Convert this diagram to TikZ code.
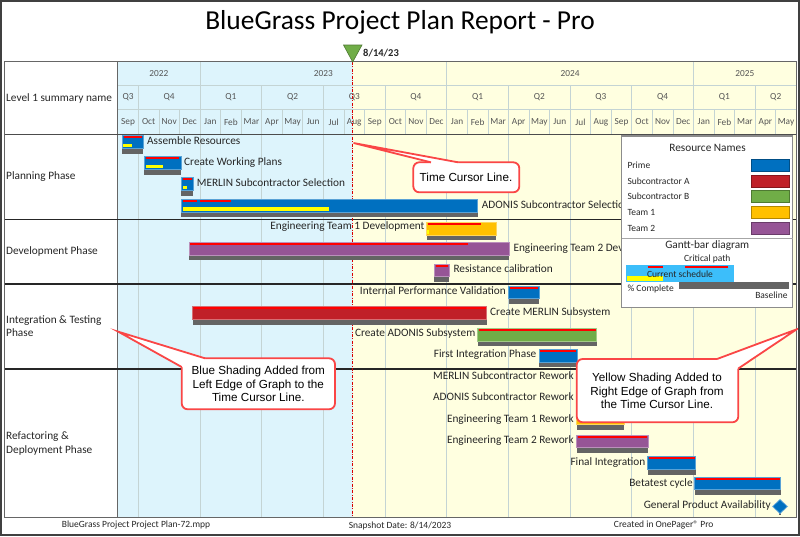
\documentclass[tikz,border=0pt]{standalone}
\usepackage{fontspec}
\setmainfont{Carlito}
\newfontfamily\arialfam{Liberation Sans}
\definecolor{prime}{RGB}{0,112,192}
\definecolor{subA}{RGB}{192,32,40}
\definecolor{subB}{RGB}{112,173,71}
\definecolor{teamA}{RGB}{255,192,0}
\definecolor{teamB}{RGB}{150,85,150}
\definecolor{critred}{RGB}{255,0,0}
\definecolor{pctyel}{RGB}{255,255,0}
\definecolor{basegray}{RGB}{100,100,100}
\definecolor{legblue}{RGB}{60,190,250}
\definecolor{shblue}{RGB}{221,244,252}
\definecolor{shyel}{RGB}{255,255,224}
\definecolor{callred}{RGB}{250,70,70}
\definecolor{gridc}{RGB}{196,212,212}
\definecolor{hdrtxt}{RGB}{85,85,85}
\definecolor{txtc}{RGB}{38,38,38}
\definecolor{curgreen}{RGB}{112,173,71}
\newcommand\mytaskfont{\fontsize{11.3}{13.5}\selectfont}
\newcommand\myhdrfont{\fontsize{9.3}{11}\selectfont}
\newcommand\mylegfont{\fontsize{9.5}{11}\selectfont}
\newcommand\mycallfont{\arialfam\fontsize{11.7}{13.4}\selectfont}
\newcommand\gbar[4]{%
  \fill[basegray] (#1,#3+12) rectangle (#2,#3+18);
  \filldraw[fill=#4, draw=#4!65!white, line width=0.6] (#1,#3) rectangle (#2,#3+12.5);}
\newcommand\crit[3]{\draw[critred, line width=1.8] (#1,#3+1.6) -- (#2,#3+1.6);}
\newcommand\pct[3]{\fill[pctyel] (#1,#3+8) rectangle (#2,#3+11.5);}
\begin{document}
\begin{tikzpicture}[x=1pt,y=-1pt,
  tlabel/.style={font=\mytaskfont, text=txtc, inner sep=0, text height=7.6pt, text depth=2.3pt},
  tw/.style={tlabel, anchor=west},
  te/.style={tlabel, anchor=east},
  hdr/.style={font=\myhdrfont, text=hdrtxt, inner sep=0},
  phase/.style={font=\mytaskfont, text=txtc, inner sep=0, anchor=west, align=left},
  gridl/.style={draw=gridc, line width=0.7},
  sepl/.style={draw=black!85, line width=1.4},
  legtxt/.style={font=\mylegfont, text=txtc, inner sep=0},
  callbox/.style={draw=callred, line width=1.8, fill=white, rounded corners=6},
  calltxt/.style={font=\mycallfont, text=black, inner sep=0, align=center},
  foot/.style={font=\fontsize{9.5}{11}\selectfont, text=txtc, inner sep=0}]
\useasboundingbox (0,0) rectangle (800,536);
\fill[white] (0,0) rectangle (800,536);
% title
\node[font=\fontsize{27.4}{30}\selectfont, inner sep=0] (title) at (400,22) {BlueGrass Project Plan Report - Pro};
% shading
\fill[shblue] (117.8,61.7) rectangle (352.7,517);
\fill[shyel] (352.7,61.7) rectangle (796,517);
% header grid
\draw[gridl] (117.8,85) -- (796,85);
\draw[gridl] (117.8,109) -- (796,109);
\foreach \m in {1,...,32} {\pgfmathsetmacro\xx{117.8+20.56*\m}\draw[gridl] (\xx,109) -- (\xx,134.3);}
\foreach \m in {1,4,...,31} {\pgfmathsetmacro\xx{117.8+20.56*\m}\draw[gridl] (\xx,85) -- (\xx,109);\draw[gridl] (\xx,134.3) -- (\xx,517);}
\foreach \m in {4,16,28} {\pgfmathsetmacro\xx{117.8+20.56*\m}\draw[gridl] (\xx,61.7) -- (\xx,85);}
% header labels
\foreach \mn [count=\i from 0] in {Sep,Oct,Nov,Dec,Jan,Feb,Mar,Apr,May,Jun,Jul,Aug,Sep,Oct,Nov,Dec,Jan,Feb,Mar,Apr,May,Jun,Jul,Aug,Sep,Oct,Nov,Dec,Jan,Feb,Mar,Apr,May}
  {\pgfmathsetmacro\xx{117.8+20.56*(\i+0.5)}\node[hdr] (mon\i) at (\xx,122) {\mn};}
\foreach \q/\a/\b [count=\i] in {Q3/0/1,Q4/1/4,Q1/4/7,Q2/7/10,Q3/10/13,Q4/13/16,Q1/16/19,Q2/19/22,Q3/22/25,Q4/25/28,Q1/28/31,Q2/31/33}
  {\pgfmathsetmacro\xx{117.8+20.56*(\a+\b)/2}\node[hdr] (qtr\i) at (\xx,97) {\q};}
\foreach \y/\a/\b [count=\i] in {2022/0/4,2023/4/16,2024/16/28,2025/28/33}
  {\pgfmathsetmacro\xx{117.8+20.56*(\a+\b)/2}\node[hdr] (yr\i) at (\xx,73.4) {\y};}
\node[phase] (lvl) at (6,98) {Level 1 summary name};
% table frame
\draw[black!60, line width=0.8] (4.5,61.7) rectangle (796,517);
\draw[black!60, line width=0.8] (117.8,61.7) -- (117.8,517);
\draw[black!70, line width=1] (4.5,134.3) -- (796,134.3);
\draw[sepl] (4.5,219.3) -- (796,219.3);
\draw[sepl] (4.5,284) -- (796,284);
\draw[sepl] (4.5,369) -- (796,369);
% phase labels
\node[phase] (ph1) at (6,176.5) {Planning Phase};
\node[phase] (ph2) at (6,251) {Development Phase};
\node[phase] (ph3) at (6,326) {Integration \& Testing\\Phase};
\node[phase] (ph4) at (6,443.7) {Refactoring \&\\Deployment Phase};
% time cursor
\draw[red!85!black, line width=0.9, dash pattern=on 3pt off 1.4pt on 1pt off 1.4pt] (352.7,62) -- (352.7,517);
\filldraw[fill=curgreen, draw=curgreen!70!black, line width=0.6] (343.5,45) -- (362,45) -- (352.7,62) -- cycle;
\node[font=\bfseries\fontsize{10.5}{12}\selectfont, anchor=west, inner sep=0, text=txtc] (cur) at (363,53.3) {8/14/23};
% tasks
\gbar{122}{143.3}{135.7}{prime}\crit{123.5}{141.8}{135.7}\pct{123}{132}{135.7}
\node[tw] (t1) at (147,142) {Assemble Resources};
\gbar{144}{181}{156.7}{prime}\crit{146}{179}{156.7}\pct{146}{163}{156.7}
\node[tw] (t2) at (184,162.7) {Create Working Plans};
\gbar{181}{193}{177.7}{prime}\crit{182.5}{191.5}{177.7}\pct{182.7}{186.7}{177.7}
\node[tw] (t3) at (196.7,184) {MERLIN Subcontractor Selection};
\gbar{181}{477.7}{199.3}{prime}\crit{182.7}{197.3}{199.3}\crit{200}{231}{199.3}\pct{182.7}{329.3}{199.3}
\node[tw] (t4) at (481.7,206) {ADONIS Subcontractor Selection};
\gbar{426.7}{496}{222.3}{teamA}\crit{427.5}{481}{222.3}\pct{427.2}{429}{222.3}
\node[te] (t5) at (424.7,227) {Engineering Team 1 Development};
\gbar{189.3}{509.3}{242.3}{teamB}\crit{190}{467.7}{242.3}
\node[tw] (t6) at (513.3,248.7) {Engineering Team 2 Development};
\gbar{434.3}{449.3}{264}{teamB}\crit{435.5}{448}{264}
\node[tw] (t7) at (453.3,270) {Resistance calibration};
\gbar{508.7}{539.3}{286}{prime}\crit{510}{538}{286}
\node[te] (t8) at (506,291.7) {Internal Performance Validation};
\gbar{192.7}{486.7}{306.7}{subA}\crit{193.5}{485.8}{306.7}
\node[tw] (t9) at (490,312.7) {Create MERLIN Subsystem};
\gbar{477.7}{596.7}{328.3}{subB}\crit{478.5}{595.8}{328.3}
\node[te] (t10) at (475.5,334.3) {Create ADONIS Subsystem};
\gbar{539.3}{577}{349.3}{prime}\crit{540.2}{576}{349.3}
\node[te] (t11) at (536.5,355.3) {First Integration Phase};
\node[te] (t12) at (574,376.7) {MERLIN Subcontractor Rework};
\node[te] (t13) at (574,398.3) {ADONIS Subcontractor Rework};
\gbar{576.7}{624.3}{412}{teamA}
\node[te] (t14) at (574,420) {Engineering Team 1 Rework};
\gbar{576.7}{648.3}{435}{teamB}\crit{577.5}{647.3}{435}
\node[te] (t15) at (574,440.7) {Engineering Team 2 Rework};
\gbar{647.7}{695.7}{456.7}{prime}\crit{648.5}{694.8}{456.7}
\node[te] (t16) at (645.5,462.7) {Final Integration};
\gbar{694.7}{780.7}{477}{prime}\crit{695.5}{779.8}{477}
\node[te] (t17) at (692.8,484) {Betatest cycle};
\fill[basegray] (779.2,509) rectangle (780.8,515);
\filldraw[fill=prime, draw=prime!55!white, line width=0.7] (780,499.5) -- (787.5,506.5) -- (780,513.5) -- (772.5,506.5) -- cycle;
\node[te] (t18) at (771,506.3) {General Product Availability};
% legend
\filldraw[fill=white, draw=black!45, line width=1.2] (621.7,136) rectangle (792.7,307.3);
\draw[black!35, line width=0.8] (621.7,238.3) -- (792.7,238.3);
\node[legtxt, font=\mytaskfont] (lgt) at (707.5,148) {Resource Names};
\foreach \nm/\yy/\cc [count=\i] in {Prime/165.3/prime, Subcontractor A/181.3/subA, Subcontractor B/196.7/subB, Team 1/212.3/teamA, Team 2/228.3/teamB}
 {\node[legtxt, anchor=west] (lg\i) at (627.3,\yy) {\nm};
  \filldraw[fill=\cc, draw=\cc!70!black, line width=0.6] (751.7,\yy-6) rectangle (789,\yy+6);}
\node[legtxt, font=\mytaskfont] (lgg) at (707.3,246) {Gantt-bar diagram};
\node[legtxt] (lgc) at (707.3,259) {Critical path};
\fill[legblue] (625.7,265) rectangle (734.3,281.7);
\fill[pctyel] (626.7,275.7) rectangle (663.3,280.7);
\draw[critred, line width=1.6] (647.7,266.8) -- (663.3,266.8);
\draw[critred, line width=1.6] (685.3,266.8) -- (727.7,266.8);
\node[legtxt] (lgs) at (680,274) {Current schedule};
\fill[basegray] (679.3,281.7) rectangle (789,289);
\node[legtxt, anchor=west] (lgp) at (627.3,289.3) {\% Complete};
\node[legtxt, anchor=east] (lgb) at (787.7,295.5) {Baseline};
% callout 1
\draw[callbox] (413.3,162.3) rectangle (519.3,192.3);
\fill[white] (353.5,143) -- (431,162.3) -- (431,164.5) -- (458,164.5) -- (458,162.3) -- cycle;
\draw[callred, line width=1.8, line join=miter] (431,162.3) -- (353.5,143) -- (458,162.3);
\node[calltxt] (c1) at (466,177.3) {Time Cursor Line.};
% callout 2
\draw[callbox] (181.7,358.3) rectangle (335,409.3);
\fill[white] (118.3,331.7) -- (181.7,367) -- (183.6,367) -- (205,360.2) -- (205,358.3) -- cycle;
\draw[callred, line width=1.8] (181.7,367) -- (118.3,331.7) -- (205,358.3);
\node[calltxt] (c2) at (258.3,384) {Blue Shading Added from\\Left Edge of Graph to the\\Time Cursor Line.};
% callout 3
\draw[callbox] (576.7,359) rectangle (738.3,422.3);
\fill[white] (796.7,329.3) -- (717,359) -- (717,360.9) -- (736.4,368.5) -- (738.3,368.5) -- cycle;
\draw[callred, line width=1.8] (717,359) -- (796.7,329.3) -- (738.3,368.5);
\node[calltxt] (c3) at (657,391) {Yellow Shading Added to\\Right Edge of Graph from\\the Time Cursor Line.};
% footer
\node[foot] (f1) at (136,525.5) {BlueGrass Project Project Plan-72.mpp};
\node[foot] (f2) at (400,525.5) {Snapshot Date: 8/14/2023};
\node[foot] (f3) at (663.7,525.5) {Created in OnePager® Pro};
% outer border
\draw[black!75, line width=2] (1,1) rectangle (799,535);
\end{tikzpicture}
\end{document}
